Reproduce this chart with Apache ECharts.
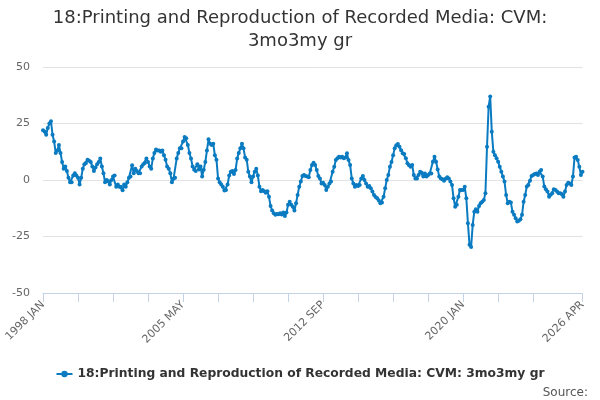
<!DOCTYPE html>
<html>
<head>
<meta charset="utf-8">
<script src="https://cdn.jsdelivr.net/npm/echarts@6/dist/echarts.min.js"></script>
<style>
  html, body { margin: 0; padding: 0; background: #fff; }
  #chart { width: 600px; height: 400px; }
</style>
</head>
<body>
<div id="chart"></div>
<script>
    var seriesName = '18:Printing and Reproduction of Recorded Media: CVM: 3mo3my gr';
    var startYear = 1998;
    var monthNames = ['JAN', 'FEB', 'MAR', 'APR', 'MAY', 'JUN', 'JUL', 'AUG', 'SEP', 'OCT', 'NOV', 'DEC'];
    var tickLabels = ['1998 JAN', '2005 MAY', '2012 SEP', '2020 JAN', '2026 APR'];

    // monthly values, one array per period
    var v1998to2005 = [
        22, 21.5, 20, 23, 25, 26, 20, 17, 12, 13,
        15.5, 12, 8, 5, 6, 4, 1, -1, -1, 2,
        3, 2, 1, -2, 1, 5, 7, 7.5, 9, 8.5,
        8, 6, 4, 5.5, 7, 8, 9.5, 6, 3, -1,
        0, -0.5, -2, 0, 1.5, 2, -3, -2, -3, -3,
        -4.5, -2, -3, -1, 1, 1.5, 6.5, 3, 5, 4,
        3, 3, 6, 7, 7.5, 9.5, 8, 6, 5, 9.5,
        12, 13.5, 13, 13, 12.5, 13, 11, 9, 6, 5,
        3, -1, 0.5, 1, 9.5, 12, 14, 14
    ];
    var v2005to2012 = [
        17, 19,
        18.5, 15.5, 12, 9.5, 6, 4.5, 4, 7, 4.7, 6,
        1.5, 4.5, 8, 13, 18, 16, 15.5, 16, 11, 9,
        0.7, -1, -2, -3, -4.7, -4.4, -2, 2, 3.7, 4,
        2.6, 4.4, 9.5, 12, 14, 16, 14, 10, 9, 3.7,
        1.5, -1, 1.5, 3.7, 5, 2, -3, -5, -4.4, -5,
        -5.6, -5, -7.4, -11.5, -13.5, -14.7, -15.4, -15, -15.1, -14.7,
        -15.3, -14.4, -15.9, -14.4, -11, -9.6, -11, -11.8, -13.5, -10.3,
        -6.6, -3, -0.7, 1.8, 2.2, 1.8, 1.5, 1.2, 4.4, 6.6,
        7.6, 6.6, 4.4, 1.8, 0.7, -1.5
    ];
    var v2012to2020 = [
        -1.2, -2.2, -4.4, -3,
        -1.5, -0.7, 3.7, 5.9, 8.8, 9.6, 10.3, 10, 10.3, 9.6,
        10, 11.8, 8.8, 6.6, 0.7, -1.5, -3, -2.2, -2.6, -2.2,
        0.7, 1.8, 0, -1.5, -3, -2.6, -3.7, -5.1, -6.6, -7.5,
        -8.1, -9.1, -10.3, -10, -7.4, -3.7, 0, 2.2, 5.9, 8,
        11, 14, 15.4, 15.9, 14.7, 13.2, 11.8, 11.5, 9.6, 7.4,
        6.5, 5.9, 6.6, 2.2, 0.7, 0.7, 2.2, 3.7, 3.2, 1.5,
        2.9, 1.5, 2.2, 2.9, 2.9, 8.1, 10.3, 8.1, 4.7, 1.5,
        0.7, 0.3, -0.3, 0.5, 1.2, 0.7, -0.7, -2.2, -8.1, -11.8,
        -11, -7.4, -4.4, -4.4
    ];
    var v2020to2026 = [
        -4.4, -3, -8.1, -19.1, -28.7, -29.7,
        -19.9, -14, -12.9, -14, -11.5, -10.3, -9.6, -8.8, -5.9, 14.7,
        32.4, 37, 21.3, 12.5, 11, 9.6, 8.1, 5.9, 3.7, 1.5,
        -0.7, -6.6, -10.3, -9.6, -10, -14, -15.4, -16.9, -18.4, -18,
        -17.4, -15.4, -9.6, -6.6, -2.9, -2.2, -0.3, 1.8, 2.2, 2.6,
        2.9, 2.2, 3.7, 4.4, 1.5, -2.9, -4.1, -5.1, -7.4, -6.5,
        -5.9, -4.1, -4.4, -5.1, -5.9, -5.9, -6.2, -7.4, -5.1, -2.2,
        -1.2, -1.5, -2.2, 1.5, 10, 10.3, 8.8, 5.9, 2.2, 3.7
    ];

    var values = v1998to2005.concat(v2005to2012, v2012to2020, v2020to2026);
    var categories = values.map(function (v, i) {
        return (startYear + Math.floor(i / 12)) + ' ' + monthNames[i % 12];
    });
    var lastIdx = categories.length - 1;

    var myChart = echarts.init(document.getElementById('chart'));
    var option = {
        animation: false,
        textStyle: { fontFamily: 'DejaVu Sans' },
        title: [{
            text: '18:Printing and Reproduction of Recorded Media: CVM:\n3mo3my gr',
            left: 'center',
            top: 2,
            textStyle: { fontSize: 18, fontWeight: 'normal', color: '#333', lineHeight: 23, fontFamily: 'DejaVu Sans' }
        }, {
            text: 'Source:',
            right: 7,
            top: 382,
            textStyle: { fontSize: 12, fontWeight: 'normal', color: '#555', fontFamily: 'DejaVu Sans' }
        }],
        legend: {
            data: [seriesName],
            bottom: 15,
            left: 'center',
            itemWidth: 16,
            itemHeight: 8,
            itemGap: 5,
            textStyle: { fontSize: 12.3, fontWeight: 'bold', color: '#333' }
        },
        grid: { left: 43, right: 17.5, top: 67, bottom: 107 },
        xAxis: {
            type: 'category',
            data: categories,
            boundaryGap: false,
            axisLine: { onZero: false, lineStyle: { color: '#c4d2e6', width: 1 } },
            axisTick: {
                length: 9,
                lineStyle: { color: '#c4d2e6' },
                interval: function (i) { return (i % 22 === 0 && i <= 308) || i === lastIdx; }
            },
            axisLabel: {
                rotate: 45,
                color: '#666',
                fontSize: 11,
                margin: 10,
                interval: function (i, v) { return tickLabels.indexOf(v) >= 0; }
            },
            splitLine: { show: false }
        },
        yAxis: {
            type: 'value',
            min: -50,
            max: 50,
            interval: 25,
            axisLine: { show: false },
            axisTick: { show: false },
            axisLabel: { color: '#666', fontSize: 11, margin: 13 },
            splitLine: { lineStyle: { color: '#e2e2e2' } }
        },
        series: [{
            name: seriesName,
            type: 'line',
            data: values,
            showAllSymbol: true,
            symbol: 'circle',
            symbolSize: 4,
            itemStyle: { color: '#0a7bc1' },
            lineStyle: { width: 2, color: '#0a7bc1' }
        }]
    };
    myChart.setOption(option);
</script>
</body>
</html>
